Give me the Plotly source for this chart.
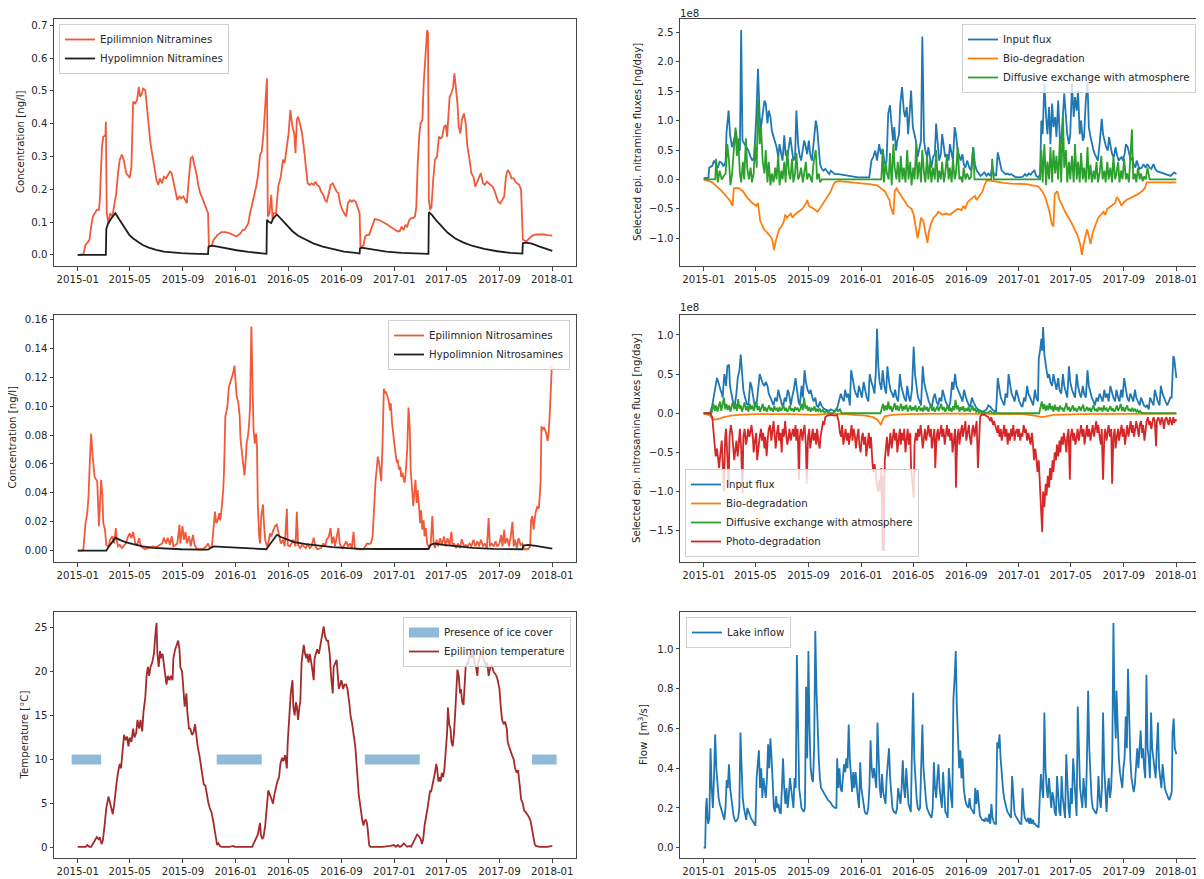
import pandas as pd
import plotly.graph_objects as go

START = pd.Timestamp("2015-01-01")

# ---------------- data: (days since 2015-01-01, value) ----------------
EPI_NITRAMINES = [(0,0.0),(9,0.0),(13,0.002),(18,0.03),(27,0.045),(31,0.086),(35,0.117),(44,0.137),(49,0.137),(51,0.167),(56,0.33),(59,0.36),(64,0.365),(65,0.406),(67,0.127),(71,0.096),(75,0.127),(80,0.117),(84,0.147),(89,0.188),(93,0.249),(97,0.29),(102,0.306),(106,0.29),(112,0.249),(120,0.235),(124,0.269),(128,0.467),(133,0.462),(137,0.472),(141,0.512),(144,0.482),(148,0.492),(151,0.507),(156,0.502),(159,0.462),(164,0.39),(168,0.34),(173,0.30),(177,0.269),(182,0.228),(186,0.213),(190,0.233),(195,0.218),(199,0.238),(204,0.233),(208,0.243),(213,0.254),(217,0.249),(221,0.223),(226,0.188),(230,0.167),(235,0.178),(239,0.172),(244,0.178),(248,0.167),(252,0.157),(257,0.238),(261,0.294),(265,0.299),(270,0.269),(274,0.249),(279,0.208),(283,0.188),(288,0.172),(292,0.157),(297,0.142),(301,0.127),(303,0.025),(310,0.03),(314,0.046),(323,0.061),(332,0.069),(341,0.069),(350,0.066),(359,0.061),(367,0.056),(376,0.066),(381,0.076),(385,0.076),(390,0.086),(394,0.096),(398,0.127),(403,0.162),(407,0.178),(412,0.208),(416,0.238),(421,0.304),(425,0.315),(429,0.37),(434,0.472),(437,0.538),(439,0.117),(443,0.127),(447,0.183),(450,0.107),(453,0.127),(458,0.127),(463,0.208),(469,0.238),(474,0.29),(478,0.28),(483,0.33),(487,0.37),(491,0.441),(496,0.39),(500,0.37),(503,0.31),(506,0.411),(509,0.421),(514,0.396),(518,0.37),(522,0.33),(527,0.259),(531,0.218),(536,0.213),(540,0.218),(545,0.213),(549,0.223),(553,0.213),(558,0.208),(562,0.193),(567,0.183),(571,0.167),(575,0.162),(580,0.188),(584,0.213),(589,0.218),(593,0.208),(598,0.193),(602,0.188),(606,0.157),(611,0.137),(615,0.127),(620,0.117),(624,0.157),(629,0.167),(633,0.162),(637,0.167),(642,0.162),(646,0.147),(651,0.127),(653,0.02),(660,0.03),(664,0.056),(668,0.061),(673,0.061),(677,0.076),(682,0.096),(686,0.109),(695,0.107),(704,0.101),(713,0.094),(722,0.086),(730,0.078),(739,0.071),(744,0.073),(748,0.086),(753,0.076),(757,0.091),(761,0.086),(766,0.107),(770,0.112),(775,0.112),(779,0.117),(782,0.147),(785,0.269),(789,0.37),(792,0.401),(796,0.411),(799,0.522),(801,0.573),(805,0.644),(807,0.685),(809,0.675),(811,0.167),(814,0.137),(817,0.147),(821,0.228),(825,0.29),(830,0.30),(834,0.36),(838,0.355),(842,0.36),(846,0.39),(850,0.396),(853,0.36),(856,0.441),(859,0.482),(863,0.492),(867,0.512),(870,0.553),(874,0.502),(877,0.462),(880,0.39),(884,0.37),(887,0.411),(892,0.431),(896,0.401),(900,0.33),(905,0.29),(909,0.249),(914,0.238),(918,0.208),(923,0.223),(927,0.238),(931,0.249),(936,0.218),(940,0.213),(945,0.223),(949,0.218),(954,0.213),(958,0.208),(962,0.198),(967,0.178),(971,0.162),(976,0.157),(980,0.167),(985,0.178),(989,0.238),(993,0.259),(998,0.249),(1002,0.233),(1007,0.233),(1011,0.223),(1015,0.218),(1020,0.213),(1024,0.198),(1028,0.046),(1036,0.041),(1045,0.054),(1049,0.058),(1058,0.062),(1067,0.063),(1076,0.062),(1085,0.06),(1096,0.059)]

HYPO_NITRAMINES = [(0,0.0),(65,0.0),(66,0.078),(70,0.095),(77,0.11),(87,0.127),(95,0.11),(104,0.09),(113,0.072),(119,0.061),(128,0.05),(137,0.041),(150,0.03),(164,0.022),(181,0.015),(199,0.01),(217,0.007),(239,0.005),(261,0.004),(283,0.003),(301,0.002),(302,0.025),(310,0.028),(323,0.025),(341,0.02),(367,0.014),(394,0.009),(420,0.005),(436,0.003),(437,0.107),(442,0.1),(447,0.097),(451,0.11),(460,0.123),(469,0.11),(482,0.09),(496,0.072),(509,0.058),(527,0.045),(544,0.035),(566,0.025),(589,0.017),(615,0.01),(642,0.006),(651,0.004),(652,0.02),(656,0.022),(669,0.019),(686,0.015),(713,0.01),(748,0.006),(783,0.004),(810,0.003),(811,0.13),(818,0.122),(828,0.105),(841,0.085),(854,0.068),(872,0.05),(890,0.038),(912,0.027),(939,0.018),(969,0.011),(1000,0.006),(1027,0.004),(1028,0.035),(1036,0.037),(1049,0.034),(1067,0.025),(1084,0.017),(1096,0.012)]

# nitramine fluxes, in units of 1e8 ng/day
NA_INPUT = [(0,0.02),(11,0.03),(13,0.2),(20,0.23),(24,0.32),(28,0.26),(33,0.2),(37,0.3),(42,0.28),(46,0.22),(51,0.3),(53,0.8),(58,1.17),(61,0.77),(66,0.55),(70,0.66),(75,0.83),(79,0.55),(84,0.49),(87,2.54),(90,0.66),(95,0.6),(100,0.55),(104,0.49),(109,0.38),(113,0.32),(117,0.38),(122,1.06),(126,1.88),(130,1.06),(133,0.89),(137,1.12),(141,1.34),(144,1.29),(148,0.95),(151,1.17),(155,1.06),(158,0.83),(162,0.72),(165,0.66),(169,0.55),(173,0.38),(176,0.6),(180,0.43),(183,0.32),(187,0.75),(190,0.43),(194,0.38),(198,0.6),(201,0.72),(205,0.49),(208,0.32),(212,0.38),(215,1.17),(219,0.6),(222,0.43),(226,0.32),(230,0.49),(233,0.66),(237,0.55),(240,0.43),(244,0.66),(247,0.43),(251,0.32),(255,0.66),(260,1.0),(263,0.89),(267,0.6),(270,0.26),(274,0.18),(278,0.15),(282,0.18),(287,0.12),(291,0.09),(295,0.15),(300,0.12),(304,0.09),(313,0.09),(322,0.08),(331,0.06),(340,0.05),(349,0.045),(358,0.034),(384,0.034),(389,0.32),(393,0.38),(398,0.49),(402,0.32),(407,0.6),(411,0.43),(415,0.52),(420,0.26),(424,0.3),(428,1.12),(432,1.26),(435,1.0),(439,0.66),(442,0.89),(446,0.49),(449,0.66),(453,0.77),(456,1.29),(460,1.57),(464,1.17),(467,1.06),(471,1.23),(474,0.77),(478,1.17),(481,1.51),(485,0.89),(488,0.77),(492,0.66),(496,0.38),(500,0.55),(504,0.66),(507,2.43),(511,0.66),(514,0.49),(518,0.38),(521,0.55),(525,0.32),(528,0.2),(532,0.38),(536,0.43),(539,0.95),(543,0.49),(546,0.32),(550,0.43),(553,0.77),(557,0.55),(560,0.38),(564,0.43),(568,0.32),(571,0.6),(575,0.43),(578,0.32),(582,0.89),(585,0.77),(589,0.49),(593,0.38),(596,0.32),(600,0.43),(603,0.26),(607,0.2),(611,0.32),(616,0.2),(620,0.15),(625,0.55),(629,0.26),(633,0.15),(638,0.09),(642,0.06),(647,0.09),(651,0.12),(656,0.06),(660,0.1),(665,0.06),(669,0.2),(673,0.09),(678,0.06),(682,0.46),(687,0.26),(691,0.15),(696,0.12),(700,0.09),(705,0.1),(709,0.08),(713,0.09),(718,0.06),(722,0.045),(731,0.034),(740,0.045),(745,0.09),(749,0.06),(754,0.1),(758,0.08),(762,0.12),(767,0.15),(771,0.06),(776,0.034),(780,0.09),(783,1.0),(786,0.77),(790,1.63),(794,1.06),(797,0.77),(801,1.23),(804,0.6),(808,1.29),(811,0.89),(815,1.06),(818,0.72),(822,1.34),(826,0.66),(829,0.6),(833,1.17),(836,1.46),(840,1.06),(843,0.77),(847,0.6),(850,0.77),(854,1.63),(858,1.06),(861,1.4),(865,1.17),(868,1.51),(872,0.77),(875,1.0),(879,0.66),(882,0.72),(886,1.34),(890,1.66),(893,0.89),(897,0.72),(900,0.6),(904,0.49),(907,0.43),(911,0.38),(914,0.32),(918,0.6),(923,1.03),(926,0.77),(930,0.66),(933,0.55),(937,0.49),(940,0.72),(944,0.55),(947,0.43),(951,0.38),(955,0.55),(958,0.43),(962,0.32),(965,0.35),(969,0.38),(972,0.32),(976,0.43),(979,0.6),(983,0.55),(987,0.43),(990,0.32),(994,0.38),(997,0.26),(1001,0.2),(1004,0.32),(1008,0.23),(1011,0.18),(1016,0.2),(1020,0.26),(1025,0.2),(1029,0.26),(1034,0.2),(1038,0.18),(1043,0.26),(1047,0.18),(1051,0.14),(1060,0.12),(1069,0.09),(1078,0.08),(1083,0.06),(1087,0.09),(1091,0.12),(1096,0.09)]

NA_BIO = [(0,0.0),(20,-0.05),(42,-0.2),(60,-0.35),(67,-0.45),(70,-0.15),(82,-0.15),(91,-0.2),(100,-0.3),(113,-0.4),(122,-0.45),(126,-0.4),(131,-0.7),(140,-0.85),(147,-0.9),(153,-0.95),(158,-1.0),(161,-1.1),(163,-1.2),(167,-1.05),(171,-0.95),(175,-0.85),(180,-0.8),(184,-0.75),(187,-0.68),(189,-0.6),(193,-0.65),(198,-0.6),(202,-0.58),(206,-0.65),(211,-0.6),(220,-0.55),(229,-0.5),(233,-0.45),(238,-0.4),(240,-0.35),(244,-0.45),(255,-0.5),(264,-0.55),(269,-0.5),(278,-0.4),(287,-0.3),(295,-0.2),(300,-0.1),(304,-0.05),(313,-0.03),(331,-0.04),(349,-0.05),(367,-0.06),(384,-0.08),(402,-0.1),(411,-0.15),(420,-0.2),(427,-0.3),(431,-0.35),(433,-0.45),(438,-0.55),(440,-0.6),(443,-0.2),(447,-0.15),(451,-0.2),(456,-0.25),(464,-0.35),(469,-0.4),(473,-0.45),(482,-0.5),(487,-0.6),(491,-0.75),(496,-1.0),(500,-0.85),(504,-0.65),(509,-0.7),(515,-0.9),(519,-1.08),(522,-0.9),(527,-0.75),(533,-0.65),(540,-0.6),(544,-0.55),(553,-0.6),(562,-0.58),(571,-0.6),(580,-0.55),(589,-0.5),(598,-0.52),(602,-0.45),(607,-0.5),(611,-0.4),(617,-0.35),(625,-0.3),(629,-0.28),(633,-0.35),(638,-0.3),(642,-0.25),(647,-0.2),(651,-0.1),(656,-0.02),(665,-0.02),(678,-0.04),(696,-0.06),(713,-0.07),(731,-0.07),(749,-0.08),(762,-0.1),(776,-0.12),(785,-0.2),(792,-0.3),(798,-0.45),(802,-0.55),(807,-0.75),(811,-0.8),(814,-0.25),(820,-0.2),(825,-0.35),(829,-0.4),(838,-0.55),(842,-0.6),(847,-0.65),(854,-0.75),(860,-0.85),(867,-0.95),(873,-1.1),(877,-1.28),(881,-1.1),(885,-0.95),(889,-0.85),(893,-0.95),(897,-1.1),(902,-0.9),(909,-0.75),(915,-0.65),(921,-0.6),(927,-0.55),(931,-0.6),(936,-0.5),(945,-0.45),(954,-0.4),(958,-0.3),(963,-0.35),(969,-0.45),(973,-0.4),(980,-0.35),(994,-0.3),(1007,-0.25),(1016,-0.2),(1023,-0.15),(1027,-0.05),(1096,-0.05)]

NA_DIFF = [(0,0.0),(27,0.0),(29,0.35),(33,-0.05),(37,0.15),(42,0.0),(46,0.05),(51,0.1),(55,0.6),(59,0.3),(62,-0.1),(66,0.1),(70,0.5),(74,0.88),(77,0.4),(80,0.7),(84,0.1),(87,-0.05),(91,0.3),(94,0.0),(98,0.7),(101,0.2),(105,0.0),(109,0.2),(112,-0.05),(116,0.1),(119,0.6),(123,0.2),(126,1.35),(130,0.6),(133,0.9),(137,0.3),(141,0.1),(144,0.5),(148,-0.05),(151,0.3),(155,-0.1),(158,0.1),(162,-0.05),(166,0.2),(169,0.0),(173,0.4),(176,-0.1),(180,0.15),(183,0.0),(187,0.3),(190,-0.05),(194,0.5),(198,0.1),(201,0.0),(205,0.35),(208,-0.05),(212,0.1),(215,0.45),(219,0.0),(222,0.05),(226,0.2),(230,-0.05),(233,0.1),(237,0.3),(240,0.0),(244,0.1),(247,0.05),(251,-0.05),(255,0.3),(260,0.5),(263,0.0),(267,0.1),(270,-0.05),(274,0.0),(412,0.0),(415,0.5),(418,-0.05),(422,0.3),(425,0.1),(429,0.0),(432,0.45),(436,-0.1),(440,0.6),(443,0.2),(447,0.0),(450,0.3),(454,-0.05),(457,0.4),(461,0.0),(464,0.2),(468,-0.05),(472,0.5),(475,0.0),(479,0.3),(482,-0.1),(486,0.2),(489,0.0),(493,0.6),(496,0.0),(500,0.3),(504,-0.05),(507,0.5),(511,0.1),(514,-0.05),(518,0.4),(521,0.0),(525,0.3),(528,-0.05),(532,0.2),(536,0.0),(539,0.5),(543,-0.05),(546,0.15),(550,0.0),(553,0.3),(557,-0.05),(560,0.1),(564,0.4),(568,0.0),(571,0.2),(575,-0.05),(578,0.35),(582,0.0),(585,0.1),(589,0.55),(593,0.0),(596,0.05),(600,-0.05),(603,0.2),(607,0.0),(611,0.1),(616,0.0),(620,0.05),(625,0.55),(628,0.0),(667,0.0),(669,0.35),(673,0.0),(780,0.0),(783,0.5),(786,-0.05),(790,0.6),(794,-0.1),(797,0.3),(801,0.0),(804,0.55),(808,-0.05),(811,0.5),(815,0.1),(818,0.4),(822,0.0),(826,0.7),(829,-0.05),(833,1.1),(836,0.2),(840,0.5),(843,-0.05),(847,0.3),(850,0.0),(854,0.4),(858,-0.05),(861,0.6),(865,0.0),(868,0.3),(872,-0.05),(875,0.45),(879,0.0),(882,0.2),(886,-0.05),(890,0.55),(893,0.0),(897,0.25),(900,-0.05),(904,0.15),(907,0.0),(911,0.3),(914,-0.05),(918,0.1),(922,0.4),(925,0.0),(929,0.15),(932,-0.05),(936,0.3),(939,0.0),(943,0.2),(947,-0.05),(950,0.4),(954,0.0),(957,0.1),(961,0.3),(964,-0.05),(968,0.15),(971,0.0),(975,0.35),(979,0.0),(982,0.1),(986,-0.05),(989,0.3),(993,0.85),(996,0.0),(1000,0.1),(1003,-0.05),(1007,0.2),(1011,0.0),(1014,0.1),(1018,-0.03),(1021,0.05),(1025,0.0),(1029,0.2),(1034,0.0),(1096,0.0)]

EPI_NITROSAMINES = [(0,0.0),(9,0.0),(13,0.001),(18,0.019),(22,0.026),(25,0.038),(28,0.062),(31,0.081),(34,0.067),(36,0.06),(39,0.051),(43,0.049),(45,0.048),(49,0.017),(51,0.028),(54,0.049),(57,0.038),(59,0.019),(63,0.0145),(66,0.004),(71,0.003),(75,0.0076),(80,0.01),(84,0.005),(88,0.0157),(90,0.0076),(93,0.003),(97,0.004),(102,0.0018),(106,0.003),(111,0.005),(115,0.0087),(120,0.012),(124,0.0087),(128,0.013),(133,0.005),(137,0.004),(142,0.0087),(146,0.003),(151,0.0018),(155,0.001),(164,0.002),(173,0.003),(182,0.0025),(190,0.004),(195,0.005),(199,0.009),(204,0.005),(208,0.009),(213,0.004),(217,0.01),(221,0.003),(226,0.004),(230,0.005),(235,0.018),(237,0.005),(242,0.017),(245,0.0076),(249,0.013),(252,0.005),(257,0.01),(261,0.003),(266,0.011),(270,0.004),(274,0.0018),(279,0.001),(288,0.001),(297,0.003),(301,0.005),(305,0.0018),(310,0.003),(314,0.0145),(317,0.027),(320,0.019),(323,0.021),(327,0.026),(329,0.021),(332,0.028),(336,0.042),(338,0.056),(341,0.093),(344,0.097),(346,0.101),(349,0.113),(352,0.116),(356,0.12),(359,0.123),(362,0.128),(365,0.118),(367,0.107),(371,0.102),(374,0.093),(376,0.077),(380,0.067),(382,0.061),(385,0.052),(388,0.063),(390,0.074),(393,0.079),(396,0.088),(398,0.1),(401,0.155),(404,0.111),(406,0.084),(409,0.074),(412,0.081),(414,0.072),(416,0.031),(419,0.01),(421,0.005),(424,0.024),(428,0.032),(430,0.019),(433,0.0076),(437,0.003),(440,0.005),(444,0.012),(447,0.0098),(452,0.0145),(456,0.017),(460,0.018),(465,0.0098),(469,0.005),(474,0.0076),(478,0.003),(483,0.029),(485,0.004),(490,0.003),(493,0.005),(498,0.0076),(503,0.003),(506,0.027),(509,0.004),(514,0.0018),(518,0.004),(522,0.003),(527,0.0018),(531,0.005),(536,0.0018),(540,0.003),(545,0.009),(549,0.003),(553,0.001),(562,0.0018),(567,0.005),(571,0.003),(575,0.0076),(580,0.0098),(584,0.0157),(587,0.005),(591,0.0098),(594,0.003),(598,0.009),(602,0.0157),(605,0.005),(608,0.003),(612,0.0018),(615,0.004),(620,0.0065),(624,0.003),(629,0.005),(633,0.0018),(637,0.013),(640,0.0018),(646,0.001),(660,0.001),(664,0.003),(668,0.005),(673,0.0048),(677,0.005),(681,0.0098),(684,0.031),(688,0.049),(691,0.058),(693,0.065),(696,0.061),(699,0.051),(701,0.048),(704,0.074),(707,0.112),(709,0.109),(712,0.11),(715,0.107),(718,0.104),(721,0.097),(723,0.102),(726,0.088),(729,0.079),(731,0.072),(734,0.067),(737,0.061),(739,0.063),(742,0.056),(745,0.058),(747,0.051),(750,0.054),(753,0.049),(755,0.047),(758,0.056),(761,0.07),(764,0.099),(767,0.084),(769,0.056),(772,0.042),(775,0.031),(777,0.038),(780,0.049),(783,0.033),(785,0.042),(788,0.031),(791,0.019),(793,0.028),(796,0.0145),(799,0.021),(801,0.01),(804,0.0157),(807,0.005),(810,0.003),(815,0.004),(819,0.024),(822,0.005),(825,0.0018),(829,0.0076),(832,0.003),(837,0.0087),(841,0.004),(846,0.0098),(850,0.003),(854,0.0087),(859,0.004),(863,0.013),(866,0.003),(869,0.005),(874,0.0018),(878,0.005),(883,0.0018),(887,0.008),(892,0.003),(896,0.004),(900,0.003),(905,0.005),(909,0.003),(914,0.0076),(918,0.003),(923,0.0065),(927,0.003),(931,0.0076),(936,0.003),(940,0.005),(945,0.0018),(949,0.0226),(952,0.003),(956,0.005),(961,0.003),(965,0.0065),(969,0.003),(974,0.005),(978,0.011),(981,0.003),(985,0.0145),(987,0.005),(992,0.0087),(996,0.003),(1000,0.0098),(1004,0.02),(1007,0.003),(1010,0.0076),(1014,0.0018),(1018,0.0087),(1023,0.004),(1027,0.005),(1031,0.001),(1040,0.001),(1045,0.003),(1047,0.021),(1050,0.024),(1053,0.0145),(1055,0.021),(1058,0.027),(1062,0.031),(1065,0.029),(1069,0.047),(1071,0.086),(1074,0.084),(1077,0.085),(1079,0.084),(1082,0.081),(1085,0.076),(1087,0.079),(1090,0.093),(1093,0.111),(1095,0.128)]

HYPO_NITROSAMINES = [(0,0.0),(66,0.0),(70,0.002),(78,0.005),(87,0.009),(97,0.0075),(110,0.006),(128,0.0045),(150,0.003),(173,0.002),(199,0.0015),(239,0.001),(283,0.0008),(301,0.0007),(308,0.002),(314,0.003),(332,0.0027),(367,0.002),(403,0.0015),(436,0.001),(438,0.002),(447,0.006),(460,0.011),(469,0.0095),(482,0.008),(500,0.006),(527,0.0045),(553,0.0035),(589,0.0025),(624,0.0018),(651,0.0013),(700,0.0012),(760,0.0012),(810,0.0012),(815,0.004),(823,0.005),(845,0.004),(872,0.003),(912,0.002),(960,0.0013),(1027,0.001),(1029,0.0035),(1040,0.004),(1058,0.0033),(1075,0.0025),(1096,0.0015)]

# nitrosamine fluxes, in units of 1e8 ng/day
NS_INPUT = [(0,0.0),(15,0.0),(20,0.1),(24,0.25),(28,0.35),(31,0.45),(34,0.4),(36,0.35),(39,0.3),(42,0.25),(44,0.2),(48,0.5),(52,0.35),(55,0.6),(59,0.62),(61,0.35),(65,0.2),(68,0.15),(72,0.1),(76,0.25),(79,0.45),(83,0.55),(86,0.75),(89,0.45),(92,0.3),(96,0.2),(100,0.12),(104,0.1),(108,0.4),(111,0.35),(115,0.2),(118,0.1),(122,0.08),(126,0.3),(130,0.5),(133,0.45),(137,0.38),(141,0.35),(144,0.4),(148,0.35),(151,0.25),(155,0.2),(158,0.15),(162,0.1),(166,0.2),(170,0.15),(173,0.3),(177,0.2),(181,0.12),(184,0.08),(188,0.2),(191,0.15),(195,0.3),(198,0.25),(202,0.1),(205,0.2),(209,0.3),(213,0.45),(216,0.3),(220,0.15),(223,0.1),(227,0.35),(230,0.2),(234,0.55),(237,0.4),(241,0.3),(245,0.25),(248,0.3),(252,0.2),(255,0.15),(259,0.2),(262,0.1),(266,0.08),(270,0.15),(273,0.1),(278,0.06),(282,0.05),(286,0.04),(291,0.03),(295,0.05),(300,0.03),(304,0.02),(309,0.05),(313,0.15),(318,0.25),(321,0.2),(325,0.15),(328,0.3),(332,0.2),(335,0.25),(339,0.1),(342,0.55),(346,0.4),(350,0.3),(353,0.25),(357,0.2),(360,0.35),(364,0.25),(367,0.2),(371,0.4),(374,0.3),(378,0.2),(382,0.15),(385,0.5),(389,0.4),(392,0.35),(396,0.25),(399,0.5),(402,1.08),(405,0.6),(408,0.4),(412,0.3),(415,0.55),(419,0.35),(423,0.25),(426,0.6),(430,0.4),(433,0.3),(437,0.25),(440,0.2),(444,0.3),(447,0.2),(451,0.15),(455,0.5),(458,0.35),(462,0.25),(465,0.2),(469,0.15),(472,0.35),(476,0.2),(479,0.15),(483,0.3),(487,0.85),(490,0.5),(494,0.3),(497,0.2),(501,0.15),(504,0.1),(508,0.6),(511,0.4),(515,0.3),(519,0.2),(522,0.15),(526,0.1),(529,0.08),(533,0.2),(536,0.25),(540,0.15),(544,0.1),(547,0.2),(551,0.15),(554,0.3),(558,0.2),(561,0.15),(565,0.1),(568,0.05),(572,0.15),(576,0.4),(579,0.3),(583,0.5),(586,0.35),(590,0.3),(593,0.25),(597,0.2),(600,0.15),(604,0.3),(608,0.2),(611,0.15),(615,0.1),(618,0.08),(622,0.2),(625,0.15),(629,0.1),(632,0.07),(636,0.05),(640,0.04),(643,0.03),(647,0.02),(651,0.03),(656,0.05),(660,0.1),(665,0.08),(669,0.05),(673,0.03),(678,0.02),(682,0.45),(686,0.3),(689,0.2),(693,0.15),(697,0.1),(700,0.25),(704,0.2),(707,0.5),(711,0.35),(714,0.25),(718,0.2),(721,0.15),(725,0.3),(729,0.2),(732,0.15),(736,0.1),(739,0.08),(743,0.2),(746,0.15),(750,0.35),(753,0.25),(757,0.2),(761,0.15),(764,0.1),(768,0.3),(771,0.2),(775,0.15),(777,0.7),(780,0.8),(783,0.95),(785,0.8),(787,1.1),(790,0.75),(793,0.6),(795,0.55),(798,0.45),(801,0.5),(804,0.4),(808,0.35),(811,0.5),(815,0.35),(818,0.3),(822,0.45),(825,0.3),(829,0.25),(833,0.5),(836,0.35),(840,0.25),(843,0.2),(847,0.6),(850,0.4),(854,0.3),(858,0.25),(861,0.2),(865,0.5),(868,0.35),(872,0.25),(875,0.2),(879,0.35),(882,0.25),(886,0.2),(890,0.55),(893,0.35),(897,0.25),(900,0.2),(904,0.15),(907,0.1),(911,0.2),(914,0.15),(918,0.25),(922,0.2),(925,0.15),(929,0.3),(932,0.2),(936,0.25),(939,0.15),(943,0.35),(947,0.25),(950,0.2),(954,0.15),(957,0.3),(961,0.2),(964,0.15),(968,0.3),(971,0.2),(975,0.45),(979,0.3),(982,0.2),(986,0.15),(989,0.25),(993,0.2),(996,0.15),(1000,0.3),(1003,0.2),(1007,0.15),(1011,0.1),(1014,0.2),(1018,0.15),(1021,0.1),(1025,0.08),(1028,0.1),(1032,0.05),(1035,0.2),(1039,0.15),(1043,0.1),(1046,0.3),(1050,0.2),(1053,0.15),(1057,0.1),(1060,0.35),(1064,0.25),(1067,0.2),(1071,0.15),(1075,0.1),(1078,0.15),(1082,0.2),(1085,0.2),(1089,0.73),(1091,0.7),(1094,0.5),(1096,0.45)]

NS_BIO = [(0,0.0),(15,-0.03),(19,-0.06),(24,-0.08),(28,-0.08),(37,-0.07),(46,-0.05),(55,-0.04),(64,-0.03),(82,-0.02),(117,-0.01),(162,-0.01),(206,-0.01),(255,-0.02),(282,-0.01),(295,-0.005),(322,-0.01),(349,-0.02),(375,-0.03),(393,-0.05),(402,-0.08),(408,-0.12),(411,-0.15),(414,-0.1),(420,-0.04),(437,-0.02),(473,-0.01),(562,-0.005),(651,-0.005),(740,-0.01),(767,-0.03),(785,-0.05),(794,-0.04),(811,-0.02),(873,-0.01),(1096,-0.005)]

NS_DIFF = [(0,0.0),(18,0.0),(20,0.05),(23,0.12),(26,0.03),(29,0.1),(32,0.02),(35,0.08),(38,0.15),(41,0.03),(44,0.1),(47,0.2),(50,0.05),(53,0.12),(56,0.04),(59,0.1),(62,0.02),(65,0.08),(68,0.15),(71,0.05),(74,0.12),(77,0.03),(80,0.18),(83,0.06),(86,0.1),(89,0.02),(92,0.08),(95,0.14),(98,0.04),(101,0.09),(104,0.02),(107,0.12),(110,0.05),(113,0.1),(116,0.03),(119,0.08),(122,0.15),(125,0.04),(128,0.09),(131,0.02),(134,0.07),(137,0.12),(140,0.03),(143,0.08),(146,0.02),(149,0.06),(152,0.1),(155,0.03),(158,0.07),(161,0.02),(164,0.09),(167,0.04),(170,0.06),(173,0.02),(176,0.08),(179,0.03),(182,0.06),(185,0.11),(188,0.03),(191,0.07),(194,0.02),(197,0.05),(200,0.1),(203,0.03),(206,0.06),(209,0.02),(212,0.08),(215,0.04),(218,0.07),(221,0.02),(224,0.05),(227,0.12),(230,0.04),(233,0.2),(236,0.06),(239,0.1),(242,0.03),(245,0.08),(248,0.02),(251,0.06),(254,0.04),(257,0.09),(260,0.02),(263,0.05),(266,0.03),(269,0.06),(272,0.02),(276,0.04),(280,0.01),(285,0.03),(290,0.0),(300,0.0),(305,0.04),(309,0.07),(312,0.02),(316,0.05),(320,0.0),(410,0.0),(413,0.06),(416,0.12),(419,0.03),(422,0.1),(425,0.04),(428,0.15),(431,0.05),(434,0.09),(437,0.02),(440,0.08),(443,0.13),(446,0.04),(449,0.1),(452,0.03),(455,0.07),(458,0.12),(461,0.03),(464,0.09),(467,0.05),(470,0.11),(473,0.02),(476,0.07),(479,0.1),(482,0.03),(485,0.08),(488,0.04),(491,0.1),(494,0.02),(497,0.06),(500,0.09),(503,0.03),(506,0.07),(509,0.02),(512,0.1),(515,0.04),(518,0.08),(521,0.02),(524,0.06),(527,0.11),(530,0.03),(533,0.08),(536,0.02),(539,0.05),(542,0.09),(545,0.03),(548,0.07),(551,0.12),(554,0.04),(557,0.08),(560,0.02),(563,0.06),(566,0.1),(569,0.03),(572,0.07),(575,0.02),(578,0.09),(581,0.04),(584,0.17),(587,0.05),(590,0.1),(593,0.02),(596,0.08),(599,0.04),(602,0.09),(605,0.02),(608,0.06),(611,0.03),(614,0.08),(617,0.02),(620,0.05),(623,0.1),(626,0.03),(629,0.06),(632,0.02),(635,0.04),(638,0.01),(642,0.03),(646,0.0),(660,0.01),(665,0.03),(670,0.0),(778,0.0),(781,0.08),(784,0.15),(787,0.05),(790,0.12),(793,0.03),(796,0.1),(799,0.04),(802,0.13),(805,0.05),(808,0.09),(811,0.02),(814,0.11),(817,0.04),(820,0.08),(823,0.02),(826,0.1),(829,0.05),(832,0.07),(835,0.02),(838,0.09),(841,0.13),(844,0.04),(847,0.08),(850,0.02),(853,0.06),(856,0.1),(859,0.03),(862,0.07),(865,0.02),(868,0.05),(871,0.09),(874,0.03),(877,0.06),(880,0.11),(883,0.02),(886,0.05),(889,0.08),(892,0.03),(895,0.07),(898,0.02),(901,0.06),(904,0.1),(907,0.03),(910,0.05),(913,0.02),(916,0.08),(919,0.04),(922,0.07),(925,0.02),(928,0.1),(931,0.04),(934,0.06),(937,0.02),(940,0.05),(943,0.09),(946,0.03),(949,0.06),(952,0.02),(955,0.05),(958,0.1),(961,0.03),(964,0.07),(967,0.12),(970,0.03),(973,0.08),(976,0.02),(979,0.06),(982,0.1),(985,0.03),(988,0.05),(991,0.02),(994,0.07),(997,0.03),(1000,0.05),(1003,0.02),(1006,0.04),(1009,0.01),(1012,0.03),(1016,0.0),(1096,0.0)]

NS_PHOTO = [(0,0.0),(15,0.0),(20,-0.05),(22,-0.2),(25,-0.3),(28,-0.55),(31,-0.45),(34,-0.65),(36,-0.7),(39,-0.5),(42,-0.35),(44,-0.6),(47,-1.0),(50,-0.3),(52,-0.2),(55,-0.55),(58,-0.95),(60,-0.3),(63,-0.15),(66,-0.25),(68,-0.4),(71,-0.6),(74,-0.45),(76,-0.35),(79,-0.55),(82,-0.3),(84,-0.2),(87,-0.45),(90,-1.02),(92,-0.3),(95,-0.2),(98,-0.4),(100,-0.35),(103,-0.2),(106,-0.3),(108,-0.25),(111,-0.15),(114,-0.3),(116,-0.5),(119,-0.35),(122,-0.25),(124,-0.6),(127,-0.4),(130,-0.3),(133,-0.2),(135,-0.35),(138,-0.25),(141,-0.45),(143,-0.3),(146,-0.55),(149,-0.3),(151,-0.2),(154,-0.15),(157,-0.35),(159,-0.25),(162,-0.1),(165,-0.3),(167,-0.45),(170,-0.25),(173,-0.15),(175,-0.35),(178,-0.25),(181,-0.5),(183,-0.2),(186,-0.3),(189,-0.1),(191,-0.25),(194,-0.4),(197,-0.3),(199,-0.2),(202,-0.35),(205,-0.25),(207,-0.2),(210,-0.3),(213,-0.15),(215,-0.35),(218,-0.2),(221,-0.85),(223,-0.3),(226,-0.2),(229,-0.35),(231,-0.25),(234,-0.15),(237,-0.4),(239,-0.9),(242,-0.3),(245,-0.2),(247,-0.45),(250,-0.3),(253,-0.2),(255,-0.35),(258,-0.25),(261,-0.4),(263,-0.2),(266,-0.35),(269,-0.45),(271,-0.3),(274,-0.2),(277,-0.1),(279,-0.15),(282,-0.05),(287,-0.03),(295,-0.02),(304,-0.03),(309,-0.02),(313,-0.1),(316,-0.25),(319,-0.3),(321,-0.15),(324,-0.4),(327,-0.3),(329,-0.2),(332,-0.35),(335,-0.25),(337,-0.4),(340,-0.3),(343,-0.15),(345,-0.35),(348,-0.2),(351,-0.3),(353,-0.45),(356,-0.3),(359,-0.2),(361,-0.4),(364,-0.5),(367,-0.3),(369,-0.25),(372,-0.4),(375,-0.3),(377,-0.55),(380,-0.35),(383,-0.25),(385,-0.45),(388,-0.3),(391,-0.6),(393,-0.75),(396,-0.65),(399,-0.75),(401,-0.9),(404,-1.0),(407,-0.85),(409,-1.0),(412,-0.7),(415,-1.76),(416,-0.8),(418,-1.76),(420,-0.6),(423,-0.4),(425,-0.3),(428,-0.55),(431,-0.35),(433,-0.25),(436,-0.45),(439,-0.3),(441,-0.2),(444,-0.35),(447,-0.25),(449,-0.5),(452,-0.3),(455,-0.2),(457,-0.4),(460,-0.25),(463,-0.35),(465,-0.2),(468,-0.5),(471,-0.3),(473,-0.2),(476,-0.4),(479,-0.25),(481,-0.7),(484,-0.9),(487,-1.08),(489,-0.4),(492,-0.25),(495,-0.35),(497,-0.2),(500,-0.3),(503,-0.15),(505,-0.25),(508,-0.45),(511,-0.3),(513,-0.2),(516,-0.35),(519,-0.25),(521,-0.15),(524,-0.3),(527,-0.2),(529,-0.45),(532,-0.3),(535,-0.2),(537,-0.7),(540,-0.3),(543,-0.2),(545,-0.35),(548,-0.25),(551,-0.15),(553,-0.3),(556,-0.2),(559,-0.4),(561,-0.25),(564,-0.15),(567,-0.3),(569,-0.2),(572,-0.35),(575,-0.25),(577,-0.5),(580,-0.3),(583,-0.2),(585,-0.95),(588,-0.3),(591,-0.2),(593,-0.4),(596,-0.25),(599,-0.15),(601,-0.3),(604,-0.2),(607,-0.1),(609,-0.35),(612,-0.25),(615,-0.15),(617,-0.3),(620,-0.4),(623,-0.2),(625,-0.15),(628,-0.3),(631,-0.2),(633,-0.1),(636,-0.7),(639,-0.2),(641,-0.05),(644,-0.02),(651,-0.02),(660,-0.05),(665,-0.1),(667,-0.05),(671,-0.15),(673,-0.1),(678,-0.2),(681,-0.25),(683,-0.15),(686,-0.3),(689,-0.2),(691,-0.35),(694,-0.25),(697,-0.15),(699,-0.3),(702,-0.2),(705,-0.4),(707,-0.25),(710,-0.35),(713,-0.2),(715,-0.3),(718,-0.15),(721,-0.35),(723,-0.25),(726,-0.2),(729,-0.3),(731,-0.2),(734,-0.35),(737,-0.25),(739,-0.3),(742,-0.15),(745,-0.25),(747,-0.2),(750,-0.35),(753,-0.25),(755,-0.3),(758,-0.4),(761,-0.25),(763,-0.35),(766,-0.6),(769,-0.45),(771,-0.55),(774,-0.75),(777,-0.6),(779,-0.9),(782,-1.2),(785,-1.52),(787,-1.0),(790,-1.2),(793,-0.9),(795,-1.05),(798,-0.8),(801,-0.95),(803,-0.7),(806,-0.85),(809,-0.6),(811,-0.75),(814,-0.5),(817,-0.6),(819,-0.4),(822,-0.55),(825,-0.35),(827,-0.5),(830,-0.3),(833,-0.4),(835,-0.25),(838,-0.35),(841,-0.5),(843,-0.3),(846,-0.2),(849,-0.85),(851,-0.3),(854,-0.2),(857,-0.35),(859,-0.25),(862,-0.4),(865,-0.3),(867,-0.2),(870,-0.35),(873,-0.25),(875,-0.15),(878,-0.3),(881,-0.2),(883,-0.4),(886,-0.25),(889,-0.15),(891,-0.3),(894,-0.2),(897,-0.35),(899,-0.25),(902,-0.15),(905,-0.3),(907,-0.2),(910,-0.1),(913,-0.25),(915,-0.15),(918,-0.3),(921,-0.4),(923,-0.2),(926,-0.85),(929,-0.3),(931,-0.2),(934,-0.35),(937,-0.25),(939,-0.15),(942,-0.3),(945,-0.2),(947,-0.9),(950,-0.3),(953,-0.2),(955,-0.45),(958,-0.3),(961,-0.2),(963,-0.35),(966,-0.25),(969,-0.15),(971,-0.3),(974,-0.2),(977,-0.4),(979,-0.25),(982,-0.15),(985,-0.3),(987,-0.2),(990,-0.1),(993,-0.25),(995,-0.15),(998,-0.3),(1001,-0.2),(1003,-0.1),(1006,-0.2),(1009,-0.3),(1011,-0.15),(1014,-0.1),(1017,-0.25),(1019,-0.15),(1022,-0.35),(1025,-0.2),(1027,-0.1),(1030,-0.05),(1033,-0.15),(1035,-0.1),(1038,-0.2),(1041,-0.1),(1043,-0.05),(1046,-0.1),(1049,-0.42),(1051,-0.1),(1054,-0.05),(1057,-0.1),(1059,-0.15),(1062,-0.05),(1065,-0.1),(1067,-0.2),(1070,-0.08),(1073,-0.05),(1075,-0.1),(1078,-0.15),(1081,-0.05),(1083,-0.1),(1086,-0.15),(1089,-0.05),(1091,-0.12),(1094,-0.08),(1096,-0.1)]

EPI_TEMPERATURE = [(0,0.1),(9,0.1),(18,0.1),(22,0.3),(27,0.1),(31,0.1),(35,0.4),(40,0.9),(44,1.2),(49,0.9),(51,1.2),(55,0.4),(58,0.8),(62,2.5),(66,4.5),(71,5.8),(75,5.0),(78,4.6),(81,3.8),(84,4.8),(87,6.5),(90,7.5),(93,8.5),(97,9.5),(100,9.0),(104,11.0),(107,12.8),(111,12.2),(114,12.6),(117,11.5),(120,12.5),(124,12.0),(128,13.5),(131,12.5),(135,13.0),(138,14.5),(142,13.5),(145,14.5),(149,13.2),(152,15.5),(156,17.0),(159,19.5),(162,20.5),(165,19.5),(168,20.5),(172,21.0),(174,21.5),(176,22.0),(179,24.0),(182,25.5),(184,22.0),(187,20.5),(190,22.3),(192,21.5),(196,22.0),(198,21.0),(201,20.0),(205,18.5),(208,19.5),(212,19.0),(215,19.5),(219,19.0),(221,21.5),(225,22.5),(228,23.0),(232,23.5),(235,22.5),(237,20.5),(241,20.0),(244,17.5),(247,16.0),(251,17.5),(253,15.5),(257,13.5),(260,13.5),(264,12.8),(267,13.0),(271,14.0),(274,12.5),(277,11.5),(281,10.5),(284,9.5),(288,8.0),(291,7.2),(295,7.0),(298,6.0),(302,5.0),(305,4.5),(309,4.0),(313,3.0),(316,2.0),(320,1.0),(322,0.3),(325,0.5),(328,0.2),(332,0.1),(350,0.1),(359,0.2),(363,0.1),(403,0.1),(407,0.5),(412,1.0),(416,1.5),(421,2.8),(423,1.5),(426,1.0),(429,1.2),(433,2.5),(437,5.0),(440,6.5),(444,6.0),(447,5.5),(451,5.0),(454,6.0),(458,7.0),(461,7.5),(465,8.0),(468,9.5),(472,10.2),(475,9.8),(479,10.5),(483,9.0),(485,12.0),(489,15.0),(492,17.5),(496,19.0),(498,16.0),(501,15.0),(504,16.5),(506,16.0),(509,14.5),(512,16.0),(514,16.5),(517,21.0),(520,22.5),(522,23.0),(525,22.0),(528,21.5),(530,22.0),(533,21.0),(536,22.0),(538,21.5),(541,20.5),(545,19.0),(547,21.5),(550,22.0),(553,22.5),(557,22.0),(560,23.0),(564,24.0),(568,25.1),(571,24.0),(575,23.5),(578,23.5),(582,22.0),(585,19.5),(589,17.5),(591,20.5),(595,21.0),(598,21.3),(600,20.0),(603,18.0),(606,18.5),(609,19.0),(613,18.0),(616,18.5),(620,18.5),(623,18.0),(627,16.5),(630,15.0),(634,14.0),(637,13.0),(641,11.5),(644,9.5),(646,7.5),(649,6.0),(652,5.0),(654,4.0),(657,3.2),(660,2.5),(662,3.0),(665,3.2),(668,2.8),(670,2.0),(673,0.3),(676,0.1),(704,0.1),(722,0.2),(730,0.3),(735,0.1),(739,0.3),(744,0.1),(748,0.2),(753,0.5),(757,0.3),(761,0.1),(766,0.2),(770,0.1),(775,0.6),(779,1.0),(784,1.5),(788,1.3),(792,1.0),(795,0.4),(798,1.0),(801,2.5),(805,3.5),(808,4.5),(811,5.5),(814,6.5),(816,6.3),(819,7.0),(822,7.5),(825,8.5),(828,9.5),(830,9.0),(833,7.5),(836,8.0),(838,7.5),(841,8.5),(844,8.0),(847,9.0),(850,11.0),(853,13.0),(855,15.9),(858,14.0),(861,13.5),(863,12.0),(866,11.5),(869,13.0),(872,15.5),(875,18.0),(877,20.2),(880,19.5),(883,17.5),(885,18.0),(888,16.5),(891,16.2),(893,18.5),(896,20.5),(899,21.0),(901,20.8),(904,21.5),(908,22.0),(910,21.5),(913,22.3),(916,21.0),(920,20.5),(923,19.5),(925,21.0),(928,21.5),(931,22.3),(934,22.0),(937,21.5),(939,21.0),(943,20.5),(946,21.0),(949,19.5),(953,20.5),(956,20.8),(960,20.0),(963,19.8),(967,19.5),(970,19.0),(974,18.0),(977,16.0),(980,14.5),(984,14.0),(987,14.3),(991,13.5),(993,12.0),(996,11.5),(1000,10.8),(1003,10.5),(1007,10.0),(1010,9.0),(1014,8.5),(1017,8.8),(1021,7.0),(1024,5.5),(1028,5.0),(1031,4.2),(1035,4.0),(1038,3.8),(1042,3.5),(1046,3.0),(1049,2.0),(1053,1.0),(1055,0.5),(1058,0.2),(1067,0.1),(1085,0.1),(1093,0.15),(1096,0.2)]

ICE_START = ["2014-12-18", "2015-11-18", "2016-10-25", "2017-11-15"]
ICE_END = ["2015-02-24", "2016-03-01", "2017-03-01", "2018-01-11"]
ICE_LEVEL = 10

LAKE_INFLOW = [(0,0.0),(3.6,0.0),(5.3,0.2),(7.1,0.25),(8.9,0.15),(10.7,0.12),(13.3,0.15),(16,0.5),(18.7,0.3),(21.4,0.2),(24,0.35),(26.7,0.57),(29.4,0.4),(32,0.3),(34.7,0.25),(37.4,0.22),(40,0.2),(42.7,0.18),(45.4,0.16),(48,0.14),(50.7,0.2),(53.4,0.34),(56,0.3),(58.7,0.42),(61.4,0.3),(64.1,0.25),(66.7,0.2),(69.4,0.16),(72.1,0.14),(74.7,0.13),(77.4,0.14),(80.1,0.15),(82.7,0.2),(85.4,0.58),(88.1,0.4),(90.7,0.25),(93.4,0.2),(96.1,0.16),(98.7,0.14),(101.4,0.2),(104.1,0.18),(106.8,0.16),(109.4,0.15),(112.1,0.14),(114.8,0.13),(117.4,0.12),(120.1,0.11),(122.8,0.35),(125.4,0.45),(128.1,0.49),(130.8,0.3),(133.4,0.4),(136.1,0.25),(138.8,0.35),(141.4,0.3),(144.1,0.25),(146.8,0.35),(149.5,0.52),(152.1,0.4),(154.8,0.55),(157.5,0.45),(160.1,0.35),(162.8,0.2),(165.5,0.18),(168.1,0.26),(170.8,0.2),(173.5,0.22),(176.1,0.18),(178.8,0.17),(181.5,0.3),(184.1,0.45),(186.8,0.3),(189.5,0.22),(192.2,0.3),(194.8,0.2),(197.5,0.26),(200.2,0.35),(202.8,0.3),(205.5,0.25),(208.2,0.2),(210.8,0.35),(213.5,0.3),(216.2,0.97),(218.8,0.5),(221.5,0.3),(224.2,0.25),(226.8,0.2),(229.5,0.19),(232.2,0.18),(234.9,0.2),(237.5,0.81),(240.2,0.45),(242.9,0.99),(245.5,0.6),(248.2,0.4),(250.9,0.35),(253.5,0.33),(256.2,0.5),(258.9,1.09),(261.5,0.8),(264.2,0.6),(266.9,0.45),(269.5,0.35),(272.2,0.3),(277.6,0.28),(282.9,0.26),(288.2,0.24),(293.6,0.23),(298.9,0.21),(304.2,0.2),(307.8,0.2),(309.6,0.45),(312.2,0.3),(314.9,0.4),(317.6,0.3),(320.3,0.28),(322.9,0.35),(325.6,0.42),(328.3,0.38),(330.9,0.45),(333.6,0.4),(336.3,0.62),(338.9,0.45),(341.6,0.35),(344.3,0.28),(346.9,0.38),(349.6,0.3),(352.3,0.38),(354.9,0.3),(357.6,0.25),(360.3,0.2),(363,0.43),(365.6,0.3),(368.3,0.25),(371,0.2),(373.6,0.18),(376.3,0.17),(379,0.17),(381.6,0.2),(384.3,0.3),(387,0.54),(389.6,0.4),(392.3,0.35),(395,0.4),(397.7,0.35),(400.3,0.3),(403,0.63),(405.7,0.4),(408.3,0.3),(411,0.25),(413.7,0.37),(416.3,0.28),(419,0.25),(421.7,0.22),(424.3,0.35),(427,0.45),(429.7,0.5),(432.4,0.35),(435,0.25),(437.7,0.2),(440.4,0.18),(443,0.18),(445.7,0.17),(448.4,0.2),(451,0.3),(453.7,0.25),(456.4,0.22),(459,0.3),(461.7,0.44),(464.4,0.3),(467,0.25),(469.7,0.4),(472.4,0.3),(475,0.22),(477.7,0.2),(480.4,0.18),(483.1,0.5),(485.7,0.78),(488.4,0.45),(491.1,0.3),(493.7,0.25),(496.4,0.2),(499.1,0.19),(501.7,0.2),(504.4,0.4),(507.1,0.62),(509.7,0.4),(512.4,0.3),(515.1,0.25),(517.7,0.2),(520.4,0.18),(523.1,0.17),(525.7,0.16),(528.4,0.15),(531.1,0.2),(533.8,0.43),(536.4,0.3),(539.1,0.25),(541.8,0.35),(544.4,0.42),(547.1,0.3),(549.8,0.25),(552.4,0.2),(555.1,0.38),(557.8,0.25),(560.4,0.18),(563.1,0.17),(565.8,0.15),(568.4,0.4),(571.1,0.3),(573.8,0.25),(576.5,0.2),(579.1,0.75),(581.8,0.85),(584.5,0.99),(587.1,0.7),(589.8,0.5),(592.5,0.4),(595.1,0.49),(597.8,0.35),(600.5,0.45),(603.1,0.3),(605.8,0.25),(608.5,0.22),(611.2,0.21),(613.8,0.2),(616.5,0.25),(619.2,0.2),(621.8,0.19),(624.5,0.18),(627.2,0.17),(629.8,0.3),(632.5,0.22),(635.2,0.29),(637.8,0.2),(640.5,0.16),(643.2,0.15),(645.8,0.14),(648.5,0.14),(651.2,0.13),(653.9,0.15),(656.5,0.14),(659.2,0.13),(661.9,0.17),(664.5,0.12),(667.2,0.22),(669.9,0.15),(672.5,0.13),(675.2,0.12),(677.9,0.12),(680.5,0.53),(683.2,0.5),(685.9,0.57),(688.5,0.45),(691.2,0.35),(693.9,0.3),(696.6,0.25),(699.2,0.22),(701.9,0.2),(704.6,0.18),(707.2,0.17),(709.9,0.16),(712.6,0.15),(715.2,0.36),(717.9,0.25),(720.6,0.18),(723.2,0.16),(725.9,0.15),(728.6,0.14),(731.2,0.13),(733.9,0.12),(736.6,0.12),(739.3,0.3),(741.9,0.2),(744.6,0.15),(747.3,0.14),(749.9,0.13),(752.6,0.15),(755.3,0.12),(757.9,0.15),(760.6,0.12),(763.3,0.14),(765.9,0.12),(768.6,0.12),(771.3,0.11),(773.9,0.11),(776.6,0.1),(779.3,0.25),(782,0.37),(784.6,0.3),(787.3,0.25),(790,0.68),(792.6,0.4),(795.3,0.3),(798,0.25),(800.6,0.35),(803.3,0.25),(806,0.2),(808.6,0.28),(811.3,0.25),(814,0.18),(816.7,0.16),(819.3,0.36),(822,0.25),(824.7,0.18),(827.3,0.16),(830,0.36),(832.7,0.25),(835.3,0.2),(838,0.15),(840.7,0.47),(843.3,0.3),(846,0.2),(848.7,0.15),(851.4,0.3),(854,0.22),(856.7,0.45),(859.4,0.35),(862,0.25),(864.7,0.16),(867.4,0.71),(870,0.45),(872.7,0.3),(875.4,0.25),(878,0.2),(880.7,0.35),(883.4,0.25),(886.1,0.2),(888.7,0.45),(891.4,0.79),(894.1,0.5),(896.7,0.35),(899.4,0.25),(902.1,0.2),(904.7,0.19),(907.4,0.18),(910.1,0.17),(912.7,0.2),(915.4,0.36),(918.1,0.25),(920.8,0.2),(923.4,0.3),(926.1,0.68),(928.8,0.4),(931.4,0.25),(934.1,0.18),(936.8,0.3),(939.4,0.35),(942.1,0.25),(944.8,0.3),(947.4,0.45),(950.1,1.13),(952.8,0.7),(955.5,0.55),(957.2,0.79),(959.9,0.6),(962.6,0.45),(965.2,0.38),(967.9,0.35),(970.6,0.3),(973.2,0.4),(975.9,0.45),(978.6,0.66),(981.2,0.5),(983.9,0.9),(986.6,0.6),(989.2,0.45),(991.9,0.35),(994.6,0.3),(997.2,0.28),(999.9,0.32),(1002.6,0.45),(1005.3,0.5),(1007.9,0.4),(1010.6,0.5),(1013.3,0.59),(1015.9,0.45),(1018.6,0.5),(1021.3,0.4),(1023.9,0.35),(1026.6,0.87),(1029.3,0.5),(1031.9,0.45),(1034.6,0.35),(1037.3,0.68),(1039.9,0.5),(1042.6,0.45),(1045.3,0.4),(1048,0.35),(1050.6,0.5),(1053.3,0.63),(1056,0.4),(1058.6,0.35),(1061.3,0.3),(1064,0.42),(1066.6,0.35),(1069.3,0.3),(1072,0.28),(1074.6,0.26),(1077.3,0.25),(1080,0.24),(1082.6,0.26),(1085.3,0.28),(1087.1,0.58),(1089.8,0.65),(1092.4,0.5),(1096,0.47)]

X_TICKS = pd.date_range("2015-01-01", "2018-01-01", freq="4MS")

# ---------------- helpers ----------------
def unpack(pairs):
    d, v = zip(*pairs)
    return START + pd.to_timedelta(list(d), unit="D"), list(v)

FONT = "DejaVu Sans"
FS = 10.2
TXT = "#262626"
FRAME = "#444444"
LW = 1.8

fig = go.Figure()

def line(pairs, name, color, ax, legend, width=LW):
    x, y = unpack(pairs)
    fig.add_trace(go.Scatter(x=x, y=y, mode="lines", name=name,
                             line=dict(color=color, width=width),
                             xaxis="x" + ax, yaxis="y" + ax, legend=legend,
                             hoverinfo="skip"))

C_EPI = "#f05a3a"
C_HYPO = "#1e1e1e"
C_BLUE = "#1f77b4"
C_ORANGE = "#ff7f0e"
C_GREEN = "#2ca02c"
C_RED = "#d62728"

# panel 1
line(EPI_NITRAMINES, "Epilimnion Nitramines", C_EPI, "1", "legend")
line(HYPO_NITRAMINES, "Hypolimnion Nitramines", C_HYPO, "1", "legend")
# panel 2
line(NA_INPUT, "Input flux", C_BLUE, "2", "legend2")
line(NA_BIO, "Bio-degradation", C_ORANGE, "2", "legend2")
line(NA_DIFF, "Diffusive exchange with atmosphere", C_GREEN, "2", "legend2")
# panel 3
line(EPI_NITROSAMINES, "Epilimnion Nitrosamines", C_EPI, "3", "legend3")
line(HYPO_NITROSAMINES, "Hypolimnion Nitrosamines", C_HYPO, "3", "legend3")
# panel 4
line(NS_INPUT, "Input flux", C_BLUE, "4", "legend4")
line(NS_BIO, "Bio-degradation", C_ORANGE, "4", "legend4")
line(NS_DIFF, "Diffusive exchange with atmosphere", C_GREEN, "4", "legend4")
line(NS_PHOTO, "Photo-degradation", C_RED, "4", "legend4")
# panel 5
ice_x, ice_y = [], []
for s, e in zip(ICE_START, ICE_END):
    ice_x += [pd.Timestamp(s), pd.Timestamp(e), None]
    ice_y += [ICE_LEVEL, ICE_LEVEL, None]
fig.add_trace(go.Scatter(x=ice_x, y=ice_y, mode="lines", name="Presence of ice cover",
                         line=dict(color="rgba(31,119,180,0.5)", width=10),
                         xaxis="x5", yaxis="y5", legend="legend5", hoverinfo="skip"))
line(EPI_TEMPERATURE, "Epilimnion temperature", "#a52a2a", "5", "legend5")
# panel 6
line(LAKE_INFLOW, "Lake inflow", C_BLUE, "6", "legend6")

# ---------------- layout ----------------
# the page body adds an 8 px margin, so the figure is 8 px smaller and
# every screen position below is converted with that offset
OFF = 8
W, H = 1204 - OFF, 879 - OFF

def px(x):
    return (x - OFF) / W

def py(y):
    return 1 - (y - OFF) / H

XL = [px(54), px(576)]
XR = [px(680), px(1200)]
ROWS = [[py(266), py(19)], [py(562), py(315)], [py(858), py(612)]]

pad = pd.Timedelta(days=54.8)
xrange_ = [START - pad, pd.Timestamp("2018-01-01") + pad]

def xaxis(dom, anchor):
    return dict(domain=dom, anchor=anchor, type="date", range=xrange_,
                tickvals=list(X_TICKS), ticktext=[d.strftime("%Y-%m") for d in X_TICKS],
                showline=True, mirror=True, linecolor=FRAME, linewidth=1,
                ticks="outside", ticklen=3.5, tickcolor=FRAME, showgrid=False, zeroline=False,
                tickfont=dict(family=FONT, size=FS, color=TXT))

def yaxis(dom, anchor, rng, dtick, fmt, tick0=0):
    return dict(domain=dom, anchor=anchor, range=rng, dtick=dtick, tick0=tick0, tickformat=fmt,
                showline=True, mirror=True, linecolor=FRAME, linewidth=1,
                ticks="outside", ticklen=3.5, tickcolor=FRAME, showgrid=False, zeroline=False,
                tickfont=dict(family=FONT, size=FS, color=TXT))

def legend(x, y, xa, ya):
    return dict(x=x, y=y, xanchor=xa, yanchor=ya, xref="paper", yref="paper",
                bgcolor="rgba(255,255,255,0.8)", bordercolor="#cfcfcf", borderwidth=1,
                font=dict(family=FONT, size=FS, color=TXT), tracegroupgap=0)

layout = dict(
    width=W, height=H, margin=dict(l=0, r=0, t=0, b=0),
    paper_bgcolor="white", plot_bgcolor="white", showlegend=True,
    font=dict(family=FONT, size=FS, color=TXT),
    xaxis=xaxis(XL, "y"), yaxis=yaxis(ROWS[0], "x", [-0.034, 0.719], 0.1, ".1f"),
    xaxis2=xaxis(XR, "y2"), yaxis2=yaxis(ROWS[0], "x2", [-1.471, 2.726], 0.5, ".1f"),
    xaxis3=xaxis(XL, "y3"), yaxis3=yaxis(ROWS[1], "x3", [-0.0078, 0.163], 0.02, ".2f"),
    xaxis4=xaxis(XR, "y4"), yaxis4=yaxis(ROWS[1], "x4", [-1.90, 1.255], 0.5, ".1f"),
    xaxis5=xaxis(XL, "y5"), yaxis5=yaxis(ROWS[2], "x5", [-1.17, 26.74], 5, "d"),
    xaxis6=xaxis(XR, "y6"), yaxis6=yaxis(ROWS[2], "x6", [-0.052, 1.186], 0.2, ".1f"),
    legend=legend(px(59), py(24), "left", "top"),
    legend2=legend(px(1196), py(24), "right", "top"),
    legend3=legend(px(570), py(320), "right", "top"),
    legend4=legend(px(685), py(557), "left", "bottom"),
    legend5=legend(px(571), py(617), "right", "top"),
    legend6=legend(px(686), py(617), "left", "top"),
)
fig.update_layout(**layout)

# y-axis titles and offset labels
titles = [
    (20, 142, "Concentration [ng/l]"),
    (637, 142, "Selected epi. nitramine fluxes [ng/day]"),
    (12.5, 438, "Concentration [ng/l]"),
    (637, 438, "Selected epi. nitrosamine fluxes [ng/day]"),
    (23.5, 735, "Temperature [°C]"),
    (642, 735, "Flow  [m<sup>3</sup>/s]"),
]
for x, y, t in titles:
    fig.add_annotation(x=px(x), y=py(y), xref="paper", yref="paper", text=t,
                       textangle=-90, showarrow=False, xanchor="center", yanchor="middle",
                       font=dict(family=FONT, size=FS, color=TXT))
for y in (19.5, 314):
    fig.add_annotation(x=px(679), y=py(y), xref="paper", yref="paper", text="1e8",
                       showarrow=False, xanchor="left", yanchor="bottom",
                       font=dict(family=FONT, size=FS, color=TXT), borderpad=0)

fig.write_html("out.html")
